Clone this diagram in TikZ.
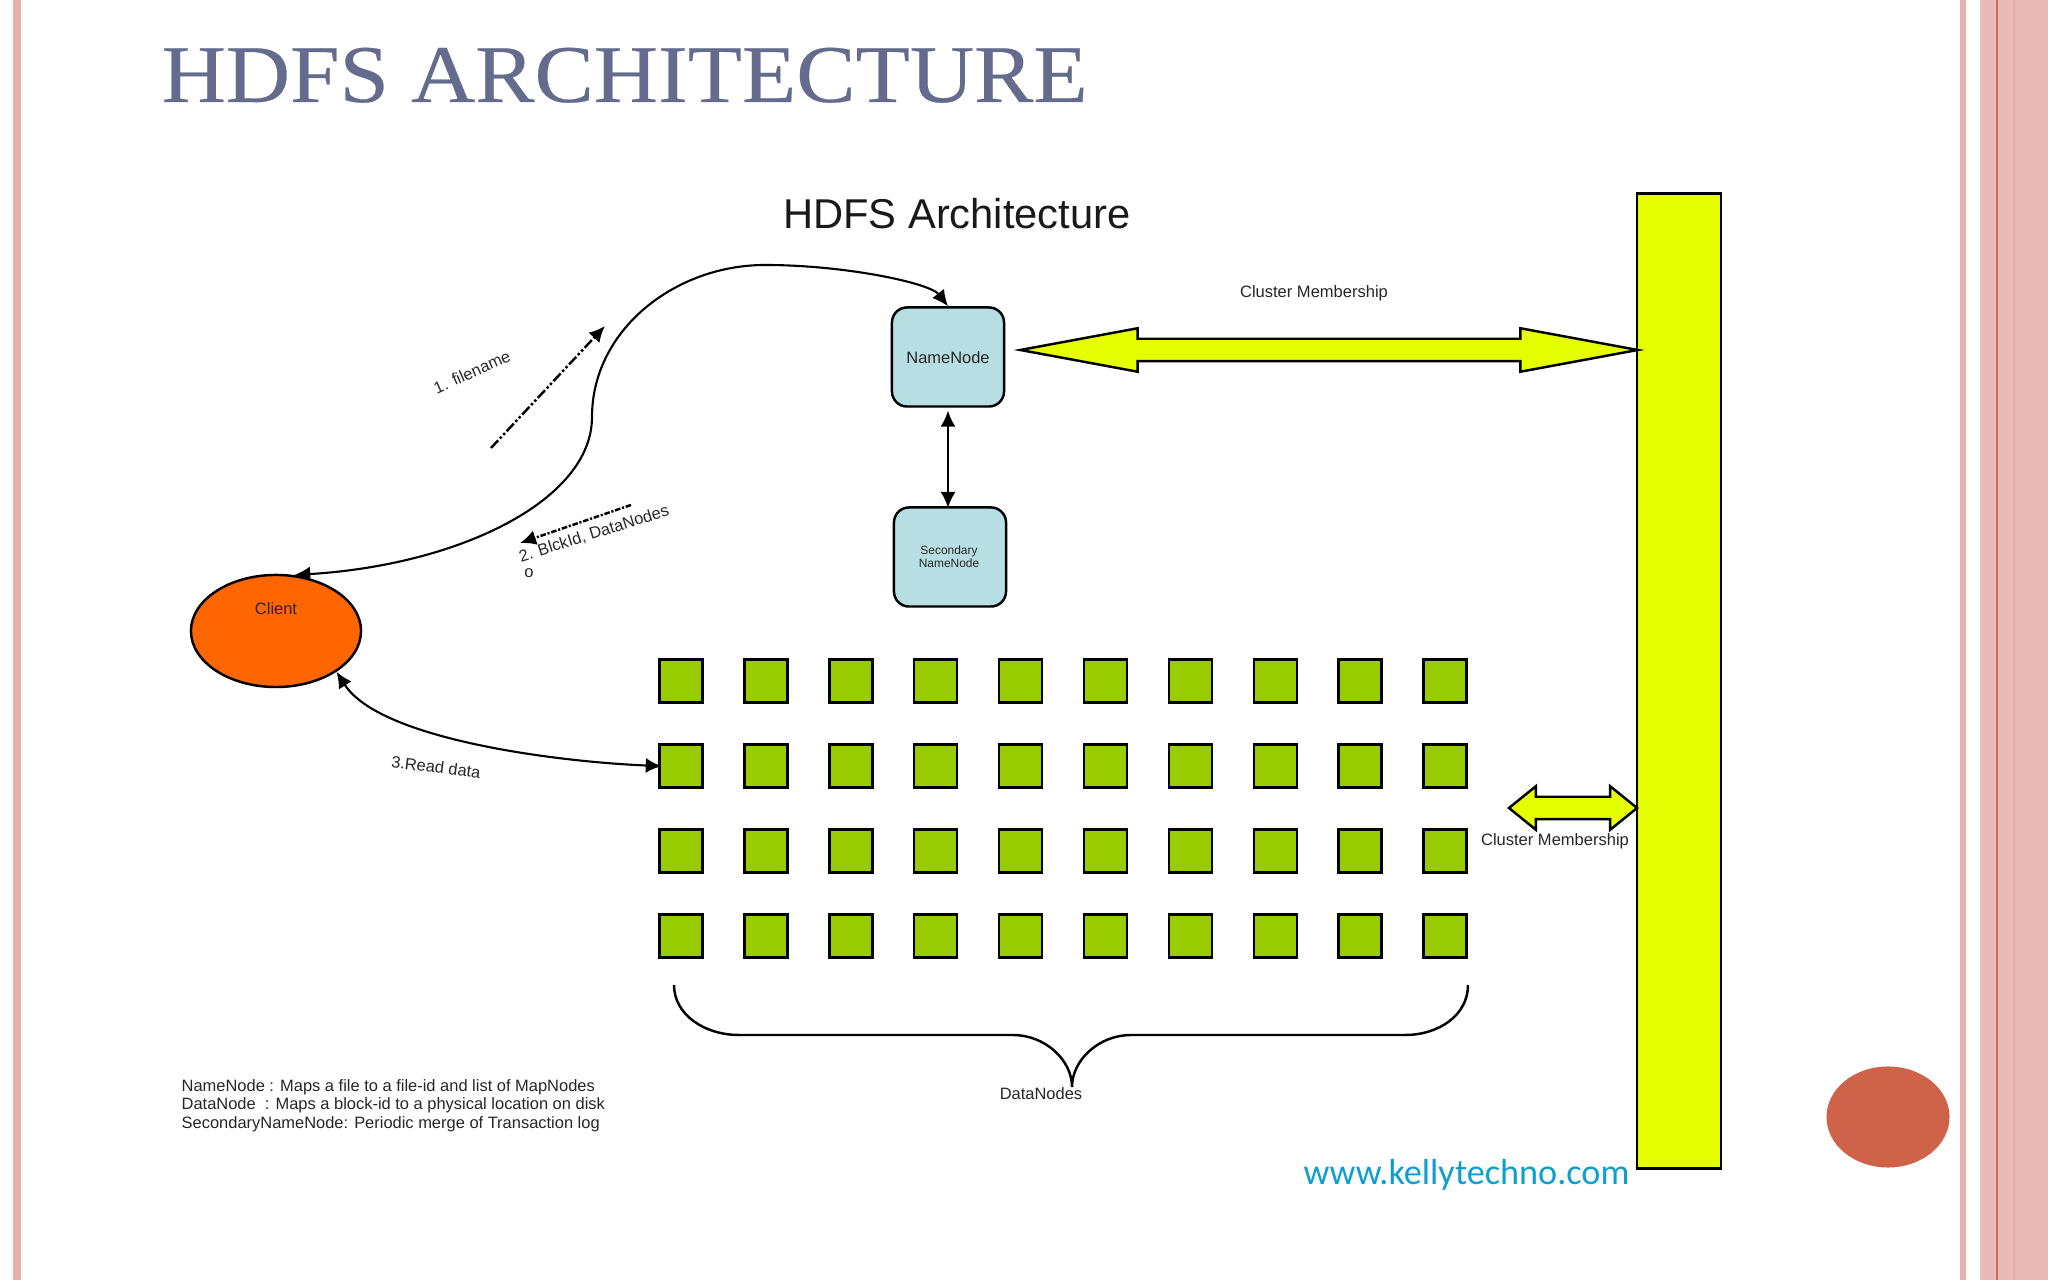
\documentclass[tikz,border=0pt]{standalone}
\usepackage{fontspec}
\setmainfont{Liberation Sans}
\newfontfamily\titlefont[FakeStretch=1.085,FakeBold=0.3]{Liberation Serif}
\newfontfamily\webfont{Carlito}
\usepackage{tikz}
\usetikzlibrary{arrows.meta,shapes.geometric,shapes.arrows}
\definecolor{slidepink}{HTML}{E8BAB8}
\definecolor{slideedge}{HTML}{E5B1AA}
\definecolor{sliderule}{HTML}{CF6A62}
\definecolor{slidetitle}{HTML}{646B8C}
\definecolor{barlime}{HTML}{E4FF00}
\definecolor{boxblue}{HTML}{B7DFE3}
\definecolor{clientorange}{HTML}{FF6600}
\definecolor{datagreen}{HTML}{99CC00}
\definecolor{dotred}{HTML}{CF634A}
\definecolor{weblink}{HTML}{0E9FD0}
\tikzstyle{namebox} = [draw=black, fill=boxblue, line width=0.7pt, rectangle, rounded corners=0.15cm, minimum width=1.12cm, minimum height=0.99cm, inner sep=0pt]
\tikzstyle{clientshape} = [draw=black, fill=clientorange, line width=0.7pt, ellipse, minimum width=1.7cm, minimum height=1.12cm, inner sep=0pt]
\tikzstyle{datanode} = [draw=black, fill=datagreen, line width=0.7pt, rectangle, minimum size=0.43cm, inner sep=0pt]
\tikzstyle{limebar} = [draw=black, fill=barlime, line width=0.8pt, rectangle, minimum width=0.84cm, minimum height=9.74cm, inner sep=0pt]
\tikzstyle{memberarrow} = [draw=black, fill=barlime, line width=0.7pt, double arrow, inner xsep=0pt, inner ysep=0.1cm, minimum width=0.41cm, double arrow head extend=0.105cm, double arrow head indent=0pt]
\tikzstyle{link} = [draw=black, line width=0.6pt, >={Latex[length=1.6mm,width=1.5mm]}]
\tikzstyle{dashlink} = [link, line width=0.7pt, dash pattern=on 3pt off 0.7pt on 0.7pt off 0.7pt on 0.7pt off 0.7pt]
\tikzstyle{dasharrow} = [link, line width=0.7pt, dash pattern=on 1.6pt off 0.5pt on 0.6pt off 0.5pt]
\tikzstyle{smalltext} = [font=\fontsize{4.68pt}{5.2pt}\selectfont, text=black!85, inner sep=0pt]
\tikzstyle{membertext} = [font=\fontsize{4.7pt}{6pt}\selectfont, text=black!85, inner sep=0pt]
\begin{document}
\begin{tikzpicture}[x=0.01cm, y=-0.01cm]
\useasboundingbox (0,0) rectangle (2048,1280);
% slide frame
\fill[slideedge] (13,0) rectangle (21,1280);
\fill[slideedge] (1960,0) rectangle (1966,1280);
\fill[slidepink] (1980,0) rectangle (2048,1280);
\fill[sliderule] (1996,0) rectangle (1998,1280);
\fill[slideedge] (2013,0) rectangle (2016,1280);
\node[anchor=base west, inner sep=0pt, text=slidetitle, font=\titlefont\fontsize{23.3pt}{28pt}\selectfont] (slidetitle) at (161,102) {HDFS ARCHITECTURE};
\node[fill=dotred, ellipse, minimum width=1.23cm, minimum height=1.01cm, inner sep=0pt] (reddot) at (1888,1117) {};
\node[anchor=base west, inner sep=0pt, text=weblink, font=\webfont\fontsize{10.3pt}{12pt}\selectfont] (website) at (1303,1185) {www.kellytechno.com};
% diagram
\node[inner sep=0pt, text=black!90, font=\fontsize{11.85pt}{14pt}\selectfont] (heading) at (957,214) {HDFS Architecture};
\node[limebar] (bar) at (1679,681) {};
\node[namebox] (namenode) at (948,357) {};
\node[smalltext] (namenodetext) at (948,358) {NameNode};
\node[namebox] (secondary) at (950,557) {};
\node[align=center, inner sep=0pt, text=black!85, font=\fontsize{3.4pt}{3.75pt}\selectfont] (secondarytext) at (949,557) {Secondary\\NameNode};
\node[clientshape] (client) at (276,631) {};
\node[smalltext] (clienttext) at (276,609) {Client};
\foreach \c in {0,...,9}
  \foreach \r in {0,...,3}
    \node[datanode] (dn\c\r) at ({681+84.9*\c},{681+85*\r}) {};
% membership arrows
\node[memberarrow, minimum height=6.17cm, double arrow tip angle=21] (toparrow) at (1329,350) {};
\node[membertext] (toplabel) at (1314,293) {Cluster Membership};
\node[memberarrow, minimum height=1.28cm, double arrow tip angle=78] (lowarrow) at (1573,808) {};
\node[membertext] (lowlabel) at (1555,841) {Cluster Membership};
% connectors
\draw[link, <->] (namenode.north) .. controls (930,283) and (845,265) .. (765,265)
  .. controls (675,265) and (592,330) .. (592,417)
  .. controls (592,500) and (460,565) .. (client.72);
\draw[link, <->, shorten <=0.8pt, shorten >=-0.5pt] (namenode.south) -- (secondary.north -| namenode.south);
\draw[link, <->, shorten >=-1pt] (client.-34) .. controls (380,740) and (560,762) .. (dn01.west);
\coordinate (filefrom) at (491,448);
\coordinate (fileto) at (605,326);
\draw[dashlink, ->] (filefrom) -- (fileto);
\coordinate (blockfrom) at (631,505);
\coordinate (blockto) at (520,543);
\draw[dasharrow, ->] (blockfrom) -- (blockto);
\node[smalltext, rotate=24] (filelabel) at (472,372) {1. filename};
\node[smalltext, rotate=17.5] (blocklabel) at (594,534) {2. BlckId, DataNodes};
\node[smalltext] (blockextra) at (529,573) {o};
\node[smalltext, rotate=-7] (readlabel) at (436,767) {3.Read data};
% brace under the data nodes
\draw[line width=0.7pt] (674,985) .. controls (674,1015) and (705,1035) .. (739,1035) -- (1013,1035)
  .. controls (1045,1035) and (1072,1060) .. (1072,1087)
  .. controls (1072,1060) and (1099,1035) .. (1131,1035) -- (1405,1035)
  .. controls (1439,1035) and (1468,1015) .. (1468,985);
\node[smalltext] (datalabel) at (1041,1094) {DataNodes};
% legend
\node[smalltext, anchor=west, align=left] (legend) at (181,1105.5) {NameNode : Maps a file to a file-id and list of MapNodes\\DataNode\ \ : Maps a block-id to a physical location on disk\\SecondaryNameNode: Periodic merge of Transaction log};
\end{tikzpicture}
\end{document}
